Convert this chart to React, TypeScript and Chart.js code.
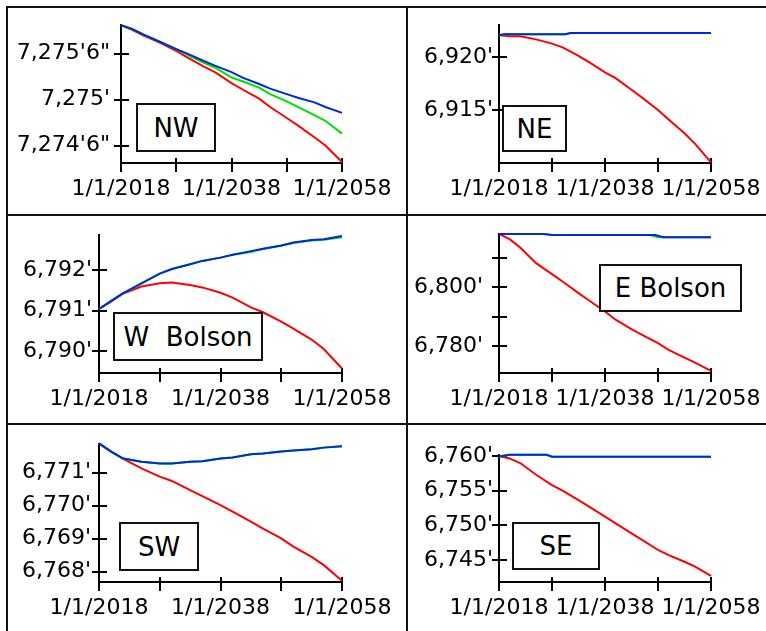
import React, { useEffect, useRef } from 'react';
import { Chart, registerables } from 'chart.js';

Chart.register(...registerables);

// ---------- shared axis data ----------
const YEARS = [2018, 2020, 2022, 2025, 2028, 2030, 2033, 2035, 2038, 2040, 2043, 2045, 2048, 2050, 2053, 2055, 2058];
const X_TICKS = [2018, 2028, 2038, 2048, 2058];
const X_TICK_LABELS = ['1/1/2018', '', '1/1/2038', '', '1/1/2058'];

// ---------- NW ----------
const nwRed = [7275.81, 7275.76, 7275.70, 7275.62, 7275.53, 7275.46, 7275.36, 7275.30, 7275.18, 7275.11, 7275.01, 7274.92, 7274.80, 7274.72, 7274.59, 7274.50, 7274.32];
const nwGreen = [7275.81, 7275.77, 7275.71, 7275.63, 7275.55, 7275.49, 7275.40, 7275.35, 7275.24, 7275.20, 7275.13, 7275.06, 7274.98, 7274.92, 7274.83, 7274.77, 7274.63];
const nwBlue = [7275.81, 7275.77, 7275.71, 7275.63, 7275.55, 7275.50, 7275.42, 7275.37, 7275.30, 7275.24, 7275.17, 7275.12, 7275.06, 7275.02, 7274.97, 7274.92, 7274.855];
const nwYTicks = [7274.5, 7275, 7275.5];
const nwYTickLabels = ['7,274\'6"', "7,275'", '7,275\'6"'];

// ---------- NE ----------
const neRed = [6922.04, 6921.95, 6921.95, 6921.65, 6921.25, 6920.9, 6920.1, 6919.5, 6918.55, 6918.0, 6916.9, 6916.16, 6915.0, 6914.1, 6912.8, 6911.8, 6910.05];
const neFlatYears = [2018, 2019, 2030.5, 2031.5, 2058];
const neGreen = [6922.05, 6922.14, 6922.14, 6922.26, 6922.26];
const neBlue = [6922.05, 6922.14, 6922.14, 6922.26, 6922.26];
const neYTicks = [6915, 6920];
const neYTickLabels = ["6,915'", "6,920'"];

// ---------- W Bolson ----------
const wbRed = [6791.04, 6791.22, 6791.42, 6791.59, 6791.67, 6791.69, 6791.63, 6791.57, 6791.44, 6791.32, 6791.08, 6790.96, 6790.73, 6790.56, 6790.29, 6790.06, 6789.58];
const wbGreen = [6791.04, 6791.24, 6791.43, 6791.67, 6791.91, 6792.02, 6792.14, 6792.22, 6792.30, 6792.37, 6792.44, 6792.51, 6792.59, 6792.66, 6792.72, 6792.74, 6792.80];
const wbBlue = [6791.04, 6791.24, 6791.43, 6791.67, 6791.91, 6792.02, 6792.14, 6792.22, 6792.30, 6792.37, 6792.46, 6792.52, 6792.60, 6792.67, 6792.73, 6792.75, 6792.83];
const wbYTicks = [6790, 6791, 6792];
const wbYTickLabels = ["6,790'", "6,791'", "6,792'"];

// ---------- E Bolson ----------
const ebRed = [6818.0, 6816.2, 6813.4, 6808.1, 6804.4, 6801.9, 6798.0, 6795.5, 6791.8, 6789.0, 6785.8, 6783.9, 6781.1, 6778.8, 6776.2, 6774.5, 6771.7];
const ebGreenYears = [2018, 2026.5, 2028, 2046.5, 2048, 2058];
const ebGreen = [6818.0, 6818.0, 6817.6, 6817.6, 6816.9, 6816.9];
const ebBlueYears = [2018, 2026.5, 2028, 2047.5, 2049, 2058];
const ebBlue = [6818.0, 6818.0, 6817.6, 6817.6, 6816.9, 6816.9];
const ebYTicks = [6780, 6790, 6800, 6810];
const ebYTickLabels = ["6,780'", '', "6,800'", ''];

// ---------- SW ----------
const swRed = [6771.89, 6771.64, 6771.42, 6771.13, 6770.88, 6770.75, 6770.47, 6770.29, 6770.02, 6769.82, 6769.52, 6769.31, 6769.01, 6768.76, 6768.45, 6768.20, 6767.73];
const swGreen = [6771.89, 6771.64, 6771.43, 6771.33, 6771.28, 6771.28, 6771.33, 6771.35, 6771.43, 6771.46, 6771.56, 6771.58, 6771.64, 6771.67, 6771.71, 6771.76, 6771.80];
const swBlue = [6771.89, 6771.64, 6771.43, 6771.33, 6771.28, 6771.28, 6771.33, 6771.35, 6771.43, 6771.46, 6771.56, 6771.58, 6771.64, 6771.67, 6771.71, 6771.76, 6771.80];
const swYTicks = [6768, 6769, 6770, 6771];
const swYTickLabels = ["6,768'", "6,769'", "6,770'", "6,771'"];

// ---------- SE ----------
const seRed = [6760.0, 6759.66, 6759.0, 6757.3, 6755.8, 6755.0, 6753.65, 6752.7, 6751.25, 6750.3, 6748.85, 6747.9, 6746.45, 6745.7, 6744.75, 6744.05, 6742.7];
const seFlatYears = [2018, 2020, 2027, 2028, 2058];
const seGreen = [6759.95, 6760.2, 6760.2, 6759.92, 6759.92];
const seBlue = [6759.95, 6760.2, 6760.2, 6759.92, 6759.92];
const seYTicks = [6745, 6750, 6755, 6760];
const seYTickLabels = ["6,745'", "6,750'", "6,755'", "6,760'"];

const RED = '#ff0000';
const GREEN = '#00e000';
const BLUE = '#0028dc';
const FONT = "'DejaVu Sans', Verdana, sans-serif";

type Panel = {
  title: string;
  red: [number[], number[]];
  green: [number[], number[]];
  blue: [number[], number[]];
  yMin: number; yMax: number;
  yTicks: number[]; yLabels: string[];
  left: number; top: number; width: number; height: number;
  yAxisW: number; padTop: number; padRight: number; xAxisH: number; yPad: number;
  box: { left: number; top: number; width: number; height: number };
};

const PANELS: Panel[] = [
  {
    title: 'NW', red: [YEARS, nwRed], green: [YEARS, nwGreen], blue: [YEARS, nwBlue],
    yMin: 7274.31, yMax: 7275.823, yTicks: nwYTicks, yLabels: nwYTickLabels,
    left: 8, top: 8, width: 398, height: 206, yAxisW: 113, padTop: 16, padRight: 64, xAxisH: 51, yPad: 11,
    box: { left: 136, top: 103, width: 80, height: 49 },
  },
  {
    title: 'NE', red: [YEARS, neRed], green: [neFlatYears, neGreen], blue: [neFlatYears, neBlue],
    yMin: 6910.0, yMax: 6923.1, yTicks: neYTicks, yLabels: neYTickLabels,
    left: 408, top: 8, width: 358, height: 206, yAxisW: 91, padTop: 16, padRight: 55, xAxisH: 51, yPad: 6,
    box: { left: 502, top: 105, width: 65, height: 47 },
  },
  {
    title: 'W  Bolson', red: [YEARS, wbRed], green: [YEARS, wbGreen], blue: [YEARS, wbBlue],
    yMin: 6789.47, yMax: 6792.88, yTicks: wbYTicks, yLabels: wbYTickLabels,
    left: 8, top: 216, width: 398, height: 207, yAxisW: 91, padTop: 18, padRight: 64, xAxisH: 50, yPad: 7,
    box: { left: 113, top: 312, width: 150, height: 49 },
  },
  {
    title: 'E Bolson', red: [YEARS, ebRed], green: [ebGreenYears, ebGreen], blue: [ebBlueYears, ebBlue],
    yMin: 6771.0, yMax: 6818.3, yTicks: ebYTicks, yLabels: ebYTickLabels,
    left: 408, top: 216, width: 358, height: 207, yAxisW: 91, padTop: 17, padRight: 55, xAxisH: 50, yPad: 16,
    box: { left: 599, top: 264, width: 143, height: 48 },
  },
  {
    title: 'SW', red: [YEARS, swRed], green: [YEARS, swGreen], blue: [YEARS, swBlue],
    yMin: 6767.69, yMax: 6771.9, yTicks: swYTicks, yLabels: swYTickLabels,
    left: 8, top: 425, width: 398, height: 206, yAxisW: 91, padTop: 18, padRight: 64, xAxisH: 49, yPad: 8,
    box: { left: 119, top: 522, width: 80, height: 49 },
  },
  {
    title: 'SE', red: [YEARS, seRed], green: [seFlatYears, seGreen], blue: [seFlatYears, seBlue],
    yMin: 6741.83, yMax: 6760.3, yTicks: seYTicks, yLabels: seYTickLabels,
    left: 408, top: 425, width: 358, height: 206, yAxisW: 91, padTop: 29, padRight: 55, xAxisH: 49, yPad: 6,
    box: { left: 512, top: 522, width: 88, height: 48 },
  },
];

const crossAxes = {
  id: 'crossAxes',
  beforeDatasetsDraw(chart: any) {
    const { ctx, chartArea: a, scales } = chart;
    const xs = scales.x;
    const ys = scales.y;
    ctx.save();
    ctx.strokeStyle = '#000';
    ctx.lineWidth = 2;
    ctx.lineCap = 'butt';
    ctx.beginPath();
    ctx.moveTo(a.left, a.top);
    ctx.lineTo(a.left, a.bottom);
    ctx.moveTo(a.left - 1, a.bottom);
    ctx.lineTo(a.right, a.bottom);
    for (const t of xs.ticks) {
      const px = Math.round(xs.getPixelForValue(t.value));
      ctx.moveTo(px, a.bottom - 5);
      ctx.lineTo(px, a.bottom + 9);
    }
    for (const t of ys.ticks) {
      const py = Math.round(ys.getPixelForValue(t.value));
      ctx.moveTo(a.left - 7, py);
      ctx.lineTo(a.left + 8, py);
    }
    ctx.stroke();
    ctx.restore();
  },
};

function series(label: string, xy: [number[], number[]], color: string) {
  const [xs, ys] = xy;
  return {
    label,
    data: xs.map((x, i) => ({ x, y: ys[i] })),
    borderColor: color,
    backgroundColor: color,
    borderWidth: 2,
    pointRadius: 0,
    fill: false,
    tension: 0,
    clip: 4,
  };
}

function PanelChart({ p }: { p: Panel }) {
  const ref = useRef<HTMLCanvasElement | null>(null);
  useEffect(() => {
    if (!ref.current) return;
    const chart = new Chart(ref.current, {
      type: 'line',
      data: {
        datasets: [series('Blue', p.blue, BLUE), series('Green', p.green, GREEN), series('Red', p.red, RED)],
      },
      options: {
        animation: false,
        responsive: false,
        maintainAspectRatio: false,
        events: [],
        layout: { padding: { top: p.padTop, right: p.padRight, left: 0, bottom: 0 } },
        plugins: { legend: { display: false }, tooltip: { enabled: false }, title: { display: false } },
        scales: {
          x: {
            type: 'linear',
            min: 2018,
            max: 2058,
            grid: { display: false, drawTicks: false },
            border: { display: false },
            afterBuildTicks: (s: any) => { s.ticks = X_TICKS.map((v) => ({ value: v })); },
            afterFit: (s: any) => { s.height = p.xAxisH; s.paddingLeft = 0; s.paddingRight = 0; },
            ticks: {
              autoSkip: false,
              maxRotation: 0,
              minRotation: 0,
              padding: 13,
              color: '#000',
              font: { size: 22, family: FONT },
              callback: (v: any) => { const i = X_TICKS.indexOf(Number(v)); return i >= 0 ? X_TICK_LABELS[i] : ''; },
            },
          },
          y: {
            type: 'linear',
            min: p.yMin,
            max: p.yMax,
            grid: { display: false, drawTicks: false },
            border: { display: false },
            afterBuildTicks: (s: any) => { s.ticks = p.yTicks.map((v) => ({ value: v })); },
            afterFit: (s: any) => { s.width = p.yAxisW; s.paddingTop = 0; s.paddingBottom = 0; },
            ticks: {
              autoSkip: false,
              padding: p.yPad,
              color: '#000',
              font: { size: 22, family: FONT },
              callback: (v: any) => { const i = p.yTicks.indexOf(Number(v)); return i >= 0 ? p.yLabels[i] : ''; },
            },
          },
        },
      } as any,
      plugins: [crossAxes],
    });
    return () => chart.destroy();
  }, [p]);
  return (
    <canvas
      ref={ref}
      width={p.width}
      height={p.height}
      style={{ position: 'absolute', left: p.left, top: p.top, width: p.width, height: p.height }}
    />
  );
}

const lineStyle = (left: number, top: number, width: number, height: number): React.CSSProperties => ({
  position: 'absolute', left, top, width, height, background: '#111',
});

export default function App() {
  return (
    <div style={{ position: 'absolute', left: 0, top: 0, width: 766, height: 631, overflow: 'hidden', background: '#fff' }}>
      {PANELS.map((p) => <PanelChart key={p.title} p={p} />)}
      <div style={lineStyle(6, 6, 762, 2)} />
      <div style={lineStyle(6, 214, 762, 2)} />
      <div style={lineStyle(6, 423, 762, 2)} />
      <div style={lineStyle(6, 6, 2, 630)} />
      <div style={lineStyle(406, 6, 2, 630)} />
      {PANELS.map((p) => (
        <div
          key={'box-' + p.title}
          style={{
            position: 'absolute',
            left: p.box.left,
            top: p.box.top,
            width: p.box.width,
            height: p.box.height,
            boxSizing: 'border-box',
            border: '2px solid #111',
            background: '#fff',
            display: 'flex',
            alignItems: 'center',
            justifyContent: 'center',
            fontFamily: FONT,
            fontSize: 26,
            color: '#000',
            whiteSpace: 'pre',
            lineHeight: 1,
          }}
        >
          {p.title}
        </div>
      ))}
    </div>
  );
}
